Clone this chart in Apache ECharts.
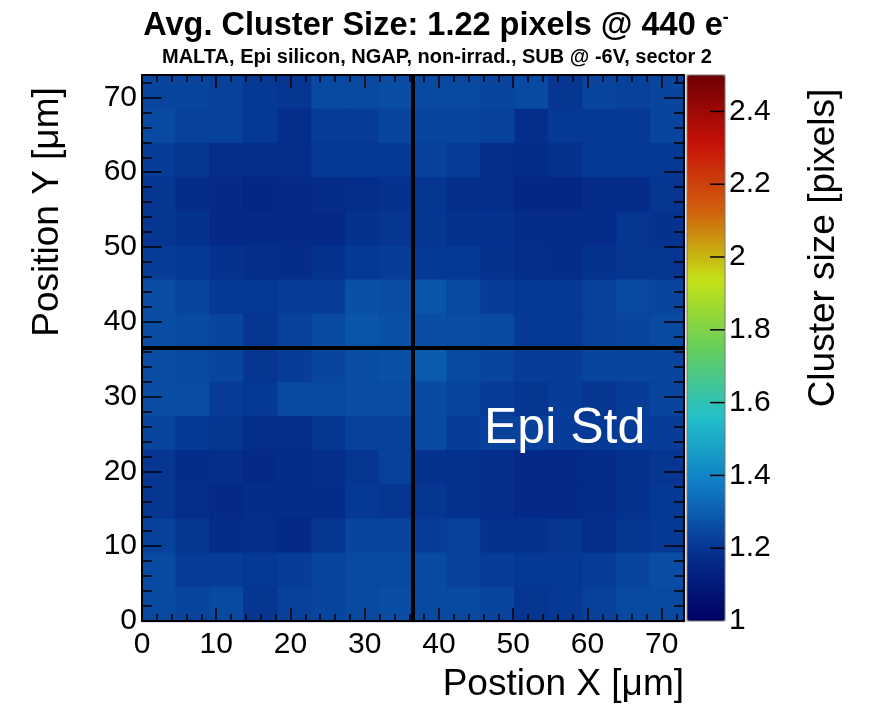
<!DOCTYPE html>
<html><head><meta charset="utf-8">
<script src="https://cdn.jsdelivr.net/npm/echarts@6/dist/echarts.min.js"></script>
<style>html,body{margin:0;padding:0;background:#fff}#c{width:872px;height:707px}</style>
</head><body><div id="c"></div>
<script>
// ---- data ----
const xRange = [0, 73];
const yRange = [0, 73];
const nBinsX = 16;
const nBinsY = 16;
// rows listed from top (highest Y) to bottom (lowest Y), columns from X=0 to X=73
const clusterSize = [
  [1.24,1.24,1.23,1.21,1.20,1.25,1.25,1.26, 1.25,1.25,1.24,1.25,1.20,1.24,1.23,1.24],
  [1.25,1.23,1.23,1.21,1.18,1.22,1.22,1.24, 1.24,1.24,1.23,1.18,1.21,1.21,1.21,1.24],
  [1.22,1.20,1.18,1.18,1.18,1.21,1.21,1.21, 1.23,1.22,1.18,1.17,1.19,1.21,1.21,1.21],
  [1.20,1.17,1.16,1.15,1.16,1.17,1.18,1.19, 1.20,1.18,1.18,1.15,1.15,1.17,1.17,1.20],
  [1.20,1.19,1.16,1.16,1.16,1.16,1.19,1.20, 1.20,1.19,1.19,1.17,1.17,1.17,1.20,1.19],
  [1.22,1.21,1.19,1.18,1.17,1.19,1.21,1.22, 1.21,1.21,1.19,1.18,1.17,1.19,1.20,1.20],
  [1.26,1.24,1.21,1.21,1.22,1.22,1.27,1.26, 1.28,1.25,1.22,1.21,1.21,1.23,1.25,1.24],
  [1.26,1.25,1.24,1.20,1.23,1.25,1.28,1.27, 1.26,1.26,1.25,1.21,1.21,1.23,1.24,1.25],
  [1.26,1.25,1.24,1.20,1.22,1.24,1.26,1.27, 1.29,1.25,1.24,1.22,1.22,1.24,1.24,1.24],
  [1.26,1.26,1.22,1.21,1.25,1.25,1.26,1.26, 1.25,1.24,1.22,1.20,1.22,1.20,1.22,1.24],
  [1.24,1.21,1.20,1.18,1.18,1.20,1.23,1.23, 1.25,1.22,1.23,1.23,1.22,1.21,1.22,1.22],
  [1.20,1.17,1.18,1.16,1.17,1.18,1.20,1.23, 1.19,1.19,1.18,1.16,1.16,1.17,1.19,1.20],
  [1.20,1.18,1.16,1.17,1.17,1.17,1.21,1.20, 1.20,1.19,1.18,1.16,1.16,1.17,1.19,1.21],
  [1.23,1.20,1.17,1.18,1.16,1.20,1.24,1.24, 1.22,1.23,1.19,1.19,1.20,1.18,1.20,1.21],
  [1.25,1.22,1.22,1.21,1.22,1.24,1.25,1.25, 1.25,1.23,1.22,1.21,1.21,1.22,1.24,1.26],
  [1.25,1.24,1.25,1.20,1.23,1.24,1.25,1.26, 1.25,1.25,1.24,1.20,1.21,1.23,1.25,1.25]
];
const colorRange = [1, 2.5];
const colorTickStep = 0.2;
const colorTickValues = [1.2, 1.4, 1.6, 1.8, 2.0, 2.2, 2.4];
const palette = ['#000063','#05308e','#0f7cc6','#23c0c9','#66ce5a','#c4e216','#d0610d','#c71008','#6e0002'];
const crossX = 36.5;
const crossY = 36.5;
const majorStep = 10;
const minorStep = 2;
const titleText = 'Avg. Cluster Size: 1.22 pixels @ 440 e';
const subTitleText = 'MALTA, Epi silicon, NGAP, non-irrad., SUB @ -6V, sector 2';
const xTitle = 'Postion X [μm]';
const yTitle = 'Position Y [μm]';
const zTitle = 'Cluster size [pixels]';
const labelText = 'Epi Std';

// ---- build ----
const FONT = '"Liberation Sans", Arial, Helvetica, sans-serif';
const bw = (xRange[1] - xRange[0]) / nBinsX;
const bh = (yRange[1] - yRange[0]) / nBinsY;
const cells = [];
clusterSize.forEach((row, r) => {
  const j = nBinsY - 1 - r;
  row.forEach((v, i) => {
    cells.push([xRange[0] + (i + 0.5) * bw, yRange[0] + (j + 0.5) * bh, v]);
  });
});
const cbTicks = colorTickValues.map(v => [1, v]);

const G = { left: 142, top: 75, width: 542, height: 546 };
const CB = { left: 687, top: 75, width: 38, height: 546 };

function xAx(pos, interval, len, labels, line) {
  return {
    type: 'value', gridIndex: 0, position: pos, offset: 0, min: xRange[0], max: xRange[1], interval,
    z: 8,
    axisLine: { show: line, onZero: false, lineStyle: { color: '#000', width: 2 } },
    axisTick: { show: true, inside: true, length: len, lineStyle: { color: '#000', width: 1.5 } },
    axisLabel: { show: labels, showMaxLabel: false, color: '#000', fontSize: 30, fontFamily: FONT, margin: 9 },
    splitLine: { show: false }
  };
}
function yAx(pos, interval, len, labels, line) {
  return {
    type: 'value', gridIndex: 0, position: pos, offset: 0, min: yRange[0], max: yRange[1], interval,
    z: 8,
    axisLine: { show: line, onZero: false, lineStyle: { color: '#000', width: 2 } },
    axisTick: { show: true, inside: true, length: len, lineStyle: { color: '#000', width: 1.5 } },
    axisLabel: { show: labels, showMaxLabel: false, color: '#000', fontSize: 30, fontFamily: FONT, margin: 5 },
    splitLine: { show: false }
  };
}

const chart = echarts.init(document.getElementById('c'), null, { renderer: 'canvas' });
chart.setOption({
  animation: false,
  backgroundColor: '#fff',
  grid: [
    { left: G.left, top: G.top, width: G.width, height: G.height, show: false },
    { left: CB.left, top: CB.top, width: CB.width, height: CB.height, show: false }
  ],
  xAxis: [
    xAx('bottom', majorStep, 13, true, true),
    xAx('bottom', minorStep, 7, false, false),
    xAx('top', majorStep, 13, false, true),
    xAx('top', minorStep, 7, false, false),
    { type: 'value', gridIndex: 1, show: false, min: 0, max: 1 }
  ],
  yAxis: [
    yAx('left', majorStep, 20, true, true),
    yAx('left', minorStep, 10, false, false),
    yAx('right', majorStep, 20, false, true),
    yAx('right', minorStep, 10, false, false),
    {
      type: 'value', gridIndex: 1, position: 'right', min: colorRange[0], max: colorRange[1], interval: colorTickStep,
      z: 20,
      axisLine: { show: false },
      axisTick: { show: false },
      axisLabel: { show: true, showMaxLabel: false, color: '#000', fontSize: 30, fontFamily: FONT, margin: 4,
        formatter: v => String(parseFloat(v.toFixed(1))) },
      splitLine: { show: false }
    }
  ],
  visualMap: {
    type: 'continuous', min: colorRange[0], max: colorRange[1], dimension: 2, seriesIndex: 0, z: 1,
    inRange: { color: palette }, calculable: false, hoverLink: false,
    itemWidth: CB.width, itemHeight: CB.height, left: CB.left, top: CB.top, padding: 0,
    textStyle: { fontSize: 0 }, text: null
  },
  series: [{
    type: 'custom', xAxisIndex: 0, yAxisIndex: 0, data: cells, silent: true, z: 2,
    encode: { x: 0, y: 1 },
    renderItem: (params, api) => {
      const cx = api.value(0), cy = api.value(1);
      const p0 = api.coord([cx - bw / 2, cy + bh / 2]);
      const p1 = api.coord([cx + bw / 2, cy - bh / 2]);
      return {
        type: 'rect',
        shape: { x: p0[0], y: p0[1], width: p1[0] - p0[0] + 0.8, height: p1[1] - p0[1] + 0.8 },
        style: { fill: api.visual('color'), stroke: api.visual('color'), lineWidth: 0.5 }
      };
    },
    markLine: {
      silent: true, symbol: 'none', z: 5, animation: false,
      label: { show: false },
      lineStyle: { color: '#000', width: 4, type: 'solid' },
      data: [{ xAxis: crossX }, { yAxis: crossY }]
    }
  }, {
    type: 'custom', xAxisIndex: 4, yAxisIndex: 4, data: cbTicks, silent: true, zlevel: 1, z: 30,
    encode: { x: 0, y: 1 },
    renderItem: (params, api) => {
      const p = api.coord([api.value(0), api.value(1)]);
      return {
        type: 'line',
        shape: { x1: p[0] - 15, y1: p[1], x2: p[0], y2: p[1] },
        style: { stroke: '#000', lineWidth: 1.5 }
      };
    }
  }],
  graphic: [
    { type: 'text', z: 100, style: { x: 436, y: 26, align: 'center', verticalAlign: 'middle',
      text: '{m|' + titleText + '}{s|-}',
      rich: { m: { fontSize: 32.5, fontWeight: 'bold', fontFamily: FONT, fill: '#000' },
              s: { fontSize: 18, fontWeight: 'bold', fontFamily: FONT, fill: '#000', verticalAlign: 'top' } } } },
    { type: 'text', z: 100, style: { x: 437, y: 57, align: 'center', verticalAlign: 'middle',
      text: subTitleText, fontSize: 20, fontWeight: 'bold', fontFamily: FONT, fill: '#000' } },
    { type: 'text', z: 100, x: 48, y: 212, rotation: Math.PI / 2,
      style: { x: 0, y: 0, align: 'center', verticalAlign: 'middle', text: yTitle, fontSize: 37, fontFamily: FONT, fill: '#000' } },
    { type: 'text', z: 100, style: { x: 684, y: 685, align: 'right', verticalAlign: 'middle',
      text: xTitle, fontSize: 37, fontFamily: FONT, fill: '#000' } },
    { type: 'text', z: 100, x: 824, y: 248, rotation: Math.PI / 2,
      style: { x: 0, y: 0, align: 'center', verticalAlign: 'middle', text: zTitle, fontSize: 37, fontFamily: FONT, fill: '#000' } },
    { type: 'text', z: 100, style: { x: 484, y: 429, align: 'left', verticalAlign: 'middle',
      text: labelText, fontSize: 50, fontFamily: FONT, fill: '#fff' } },
    { type: 'rect', z: 100, zlevel: 1, shape: { x: CB.left, y: CB.top, width: CB.width, height: CB.height },
      style: { fill: 'none', stroke: '#777', lineWidth: 1 } }
  ]
});
</script></body></html>
